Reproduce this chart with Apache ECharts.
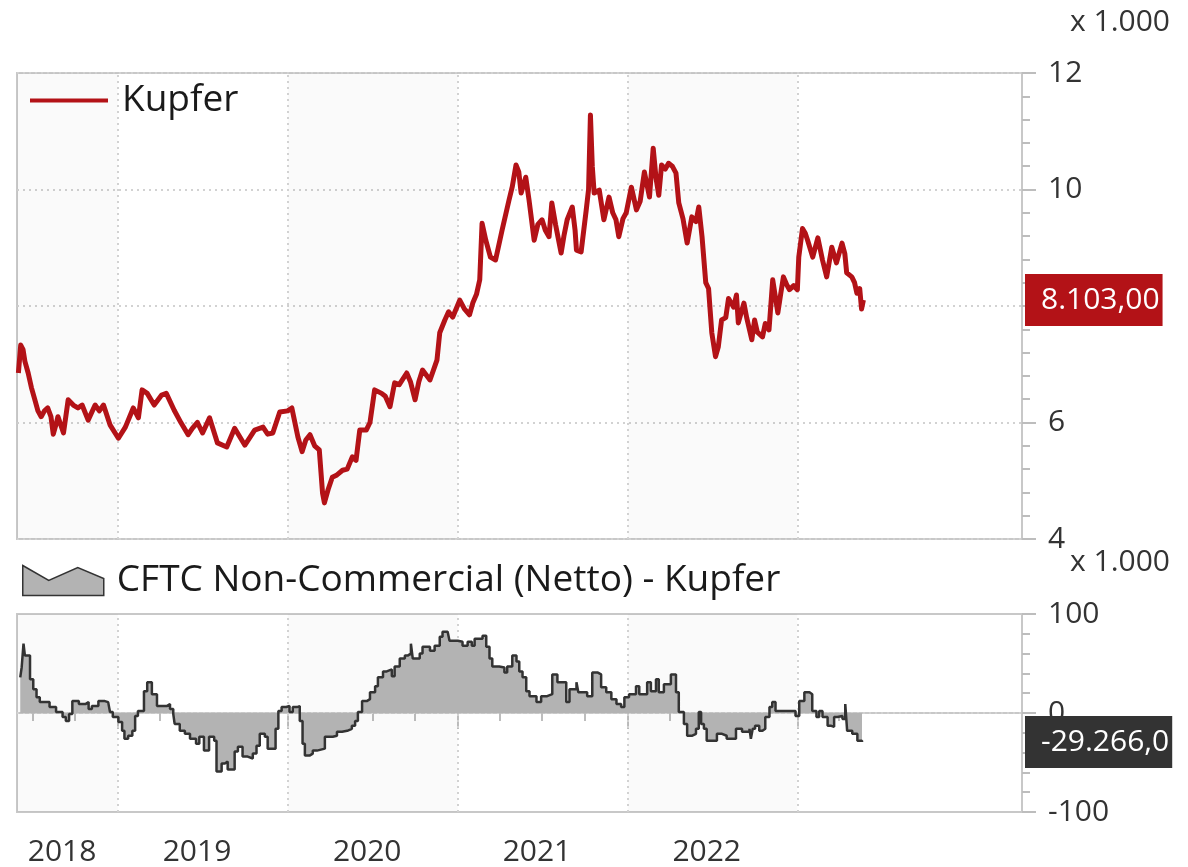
<!DOCTYPE html>
<html>
<head>
<meta charset="utf-8">
<title>Kupfer / CFTC</title>
<script src="https://cdn.jsdelivr.net/npm/echarts@6.0.0/dist/echarts.min.js"></script>
<style>
  html, body { margin: 0; padding: 0; background: #fff; }
  #chart { width: 1188px; height: 867px; }
</style>
</head>
<body>
<div id="chart"></div>
<script>
// Kupfer (USD/t)
const copperDates = [
  '2018-06-01','2018-06-06','2018-06-11','2018-06-15','2018-06-22','2018-06-29','2018-07-06','2018-07-13',
  '2018-07-20','2018-07-27','2018-08-03','2018-08-10','2018-08-15','2018-08-22','2018-08-25','2018-09-06',
  '2018-09-16','2018-09-27','2018-10-07','2018-10-16','2018-10-29','2018-11-13','2018-11-22','2018-12-01',
  '2018-12-15','2019-01-02','2019-01-17','2019-02-03','2019-02-14','2019-02-22','2019-03-05','2019-03-20',
  '2019-04-05','2019-04-15','2019-05-02','2019-05-17','2019-06-01','2019-06-10','2019-06-21','2019-07-02',
  '2019-07-17','2019-08-03','2019-08-23','2019-09-09','2019-10-01','2019-10-22','2019-11-09','2019-11-19',
  '2019-11-30','2019-12-15','2020-01-01','2020-01-10','2020-01-23','2020-02-01','2020-02-09','2020-02-18',
  '2020-02-28','2020-03-09','2020-03-16','2020-03-20','2020-03-28','2020-04-06','2020-04-16','2020-04-28',
  '2020-05-08','2020-05-19','2020-05-27','2020-06-04','2020-06-18','2020-06-26','2020-07-06','2020-07-21',
  '2020-07-29','2020-08-08','2020-08-18','2020-08-28','2020-09-13','2020-09-21','2020-10-01','2020-10-09',
  '2020-10-17','2020-11-02','2020-11-17','2020-11-23','2020-12-04','2020-12-12','2020-12-21','2021-01-05',
  '2021-01-15','2021-01-26','2021-02-02','2021-02-10','2021-02-17','2021-02-22','2021-03-02','2021-03-12',
  '2021-03-23','2021-04-06','2021-04-21','2021-04-28','2021-05-06','2021-05-12','2021-05-17','2021-05-27',
  '2021-06-03','2021-06-14','2021-06-22','2021-07-01','2021-07-08','2021-07-16','2021-07-22','2021-07-30',
  '2021-08-11','2021-08-17','2021-08-24','2021-09-04','2021-09-10','2021-09-13','2021-09-23','2021-10-04',
  '2021-10-09','2021-10-13','2021-10-17','2021-10-21','2021-11-01','2021-11-11','2021-11-22','2021-11-30',
  '2021-12-07','2021-12-13','2021-12-22','2021-12-29','2022-01-09','2022-01-20','2022-01-28','2022-02-06',
  '2022-02-17','2022-02-25','2022-03-03','2022-03-09','2022-03-15','2022-03-23','2022-03-30','2022-04-07',
  '2022-04-15','2022-04-21','2022-04-30','2022-05-09','2022-05-19','2022-05-28','2022-06-03','2022-06-10',
  '2022-06-18','2022-06-24','2022-07-01','2022-07-09','2022-07-15','2022-07-22','2022-07-31','2022-08-06',
  '2022-08-17','2022-08-23','2022-08-27','2022-09-08','2022-09-14','2022-09-25','2022-10-01','2022-10-07',
  '2022-10-18','2022-10-24','2022-11-01','2022-11-09','2022-11-20','2022-11-26','2022-12-02','2022-12-10',
  '2022-12-15','2022-12-24','2023-01-01','2023-01-04','2023-01-12','2023-01-18','2023-01-23','2023-02-03',
  '2023-02-14','2023-02-24','2023-03-05','2023-03-16','2023-03-26','2023-04-07','2023-04-13','2023-04-17',
  '2023-04-28','2023-05-04','2023-05-09','2023-05-15','2023-05-19','2023-05-23'
];
const copperValues = [
  6850,7330,7250,7050,6850,6600,6400,6200,
  6100,6200,6250,6100,5800,6000,6100,5820,
  6390,6300,6250,6300,6040,6300,6200,6300,
  5960,5730,5920,6250,6080,6560,6500,6300,
  6470,6500,6210,5990,5790,5900,6000,5820,
  6080,5650,5580,5900,5610,5870,5920,5800,
  5820,6180,6200,6250,5750,5500,5700,5790,
  5600,5530,4790,4620,4850,5060,5100,5180,
  5200,5410,5350,5870,5870,6000,6560,6500,
  6450,6270,6680,6650,6850,6700,6390,6700,
  6900,6730,7070,7540,7760,7900,7810,8100,
  7950,7850,8050,8200,8450,9420,9130,8840,
  8790,9300,9820,10050,10420,10300,9940,10210,
  9820,9130,9400,9480,9300,9190,9770,9400,
  8910,9200,9480,9700,9300,8960,8930,9650,
  10000,11280,10400,9940,9990,9480,9870,9600,
  9480,9190,9500,9600,10040,9650,9800,10300,
  9870,10710,10200,9900,10420,10350,10450,10400,
  10280,9770,9500,9080,9530,9450,9700,9190,
  8400,8300,7540,7130,7300,7760,7800,8130,
  7980,8190,7710,8050,7800,7420,7760,7550,
  7470,7700,7590,8450,7880,8200,8500,8350,
  8280,8350,8280,8840,9330,9250,9130,8840,
  9170,8790,8500,9010,8740,9080,8900,8570,
  8500,8400,8220,8300,7950,8103
];

// CFTC Non-Commercial Netto (Kontrakte)
const cftcDates = [
  '2018-06-05','2018-06-08','2018-06-12','2018-06-15','2018-06-26','2018-07-03','2018-07-10','2018-07-17',
  '2018-08-07','2018-08-21','2018-09-04','2018-09-11','2018-09-18','2018-09-25','2018-10-09','2018-10-23',
  '2018-10-30','2018-11-06','2018-11-20','2018-12-04','2018-12-11','2018-12-15','2018-12-21','2019-01-02',
  '2019-01-10','2019-01-15','2019-01-23','2019-02-01','2019-02-07','2019-02-13','2019-02-26','2019-03-05',
  '2019-03-15','2019-03-26','2019-04-16','2019-04-23','2019-04-30','2019-05-03','2019-05-14','2019-05-25',
  '2019-06-05','2019-06-18','2019-06-25','2019-07-05','2019-07-16','2019-07-27','2019-08-01','2019-08-12',
  '2019-08-19','2019-08-25','2019-09-09','2019-09-16','2019-09-26','2019-10-07','2019-10-18','2019-10-26',
  '2019-11-02','2019-11-13','2019-11-19','2019-12-06','2019-12-12','2019-12-19','2019-12-29','2020-01-05',
  '2020-01-12','2020-01-21','2020-01-27','2020-02-02','2020-02-07','2020-02-17','2020-02-24','2020-03-04',
  '2020-03-21','2020-04-07','2020-04-16','2020-04-27','2020-05-08','2020-05-18','2020-05-25','2020-05-31',
  '2020-06-09','2020-06-19','2020-06-26','2020-07-07','2020-07-13','2020-07-24','2020-08-01','2020-08-12',
  '2020-08-18','2020-08-29','2020-09-09','2020-09-15','2020-09-22','2020-09-26','2020-10-11','2020-10-17',
  '2020-11-02','2020-11-12','2020-11-23','2020-11-29','2020-12-10','2020-12-14','2021-01-01','2021-01-11',
  '2021-01-22','2021-01-31','2021-02-06','2021-02-23','2021-03-03','2021-03-10','2021-03-16','2021-03-31',
  '2021-04-11','2021-04-17','2021-04-28','2021-05-07','2021-05-13','2021-05-20','2021-05-28','2021-06-04',
  '2021-06-19','2021-06-29','2021-07-12','2021-07-23','2021-08-03','2021-08-22','2021-08-29','2021-09-13',
  '2021-09-17','2021-10-06','2021-10-17','2021-10-28','2021-11-05','2021-11-16','2021-11-27','2021-12-08',
  '2021-12-18','2021-12-25','2022-01-04','2022-01-19','2022-01-26','2022-02-12','2022-02-20','2022-03-03',
  '2022-03-09','2022-03-20','2022-04-04','2022-04-15','2022-04-21','2022-05-02','2022-05-09','2022-05-19',
  '2022-05-28','2022-06-03','2022-06-08','2022-06-14','2022-06-20','2022-07-12','2022-07-23','2022-08-02',
  '2022-08-22','2022-09-04','2022-09-20','2022-09-23','2022-09-27','2022-10-02','2022-10-11','2022-10-18',
  '2022-10-24','2022-11-02','2022-11-08','2022-11-15','2022-12-28','2023-01-05','2023-01-16','2023-01-27',
  '2023-02-02','2023-02-11','2023-02-17','2023-02-24','2023-03-07','2023-03-15','2023-03-21','2023-03-28',
  '2023-04-08','2023-04-14','2023-04-18','2023-04-29','2023-05-10','2023-05-20'
];
const cftcValues = [
  36000,46000,70000,58000,34000,24000,16000,11000,
  6000,1000,-4000,-8000,-1000,12000,9000,11000,
  4000,7000,12000,11000,9000,1000,-4000,-9000,
  -18000,-26000,-23000,-18000,-3000,2000,22000,31000,
  19000,7000,9000,4000,-1000,-11000,-18000,-21000,
  -26000,-31000,-24000,-38000,-24000,-28000,-59000,-51000,
  -49000,-57000,-39000,-34000,-44000,-46000,-41000,-33000,
  -21000,-24000,-36000,-16000,2000,6000,7000,1000,
  6000,7000,-8000,-31000,-43000,-41000,-38000,-36000,
  -24000,-23000,-19000,-18000,-16000,-13000,-8000,1000,
  12000,14000,21000,27000,36000,42000,44000,37000,
  47000,55000,58000,60000,70000,55000,60000,67000,
  63000,68000,77000,82000,83000,73000,72000,68000,
  72000,68000,75000,78000,67000,55000,47000,46000,
  41000,47000,58000,52000,42000,36000,22000,17000,
  11000,17000,19000,39000,31000,11000,24000,31000,
  21000,17000,41000,39000,26000,21000,14000,9000,
  6000,16000,19000,27000,19000,31000,22000,34000,
  21000,29000,39000,21000,1000,-11000,-23000,-21000,
  -16000,1000,-11000,-16000,-28000,-21000,-23000,-26000,
  -16000,-19000,-16000,-26000,-16000,-13000,-18000,-16000,
  -4000,6000,11000,2000,-3000,12000,21000,19000,
  2000,-4000,2000,-4000,-13000,-14000,-4000,-3000,
  -6000,9000,-18000,-21000,-28000,-29266
];

// Zeitachse
const axisStart = '2018-05-29';
const axisEnd = '2024-04-28';
const yearStarts = ['2019-01-01', '2020-01-01', '2021-01-01', '2022-01-01', '2023-01-01'];
const quarterTicks = [
  '2018-07-01','2018-10-01','2019-04-01','2019-07-01','2019-10-01','2020-04-01','2020-07-01','2020-10-01',
  '2021-04-01','2021-07-01','2021-10-01','2022-04-01','2022-07-01','2022-10-01','2023-04-01'
];
const yearLabelDates = ['2018-09-03', '2019-06-20', '2020-06-20', '2021-06-20', '2022-06-20'];
const shadedYears = [[axisStart, '2019-01-01'], ['2020-01-01', '2021-01-01'], ['2022-01-01', '2023-01-01']];

const FONT = 'Open Sans';
const BORDER = '#c8c8c8';
const TICK = '#bdbdbd';
const RED = '#b31217';

// Zeitstempel (UTC), damit die Datumsachse als Werteachse mit eigenen Ticks laufen kann
const ts = s => Date.parse(s + 'T00:00:00Z');

function deNum(v, digits) {
  const s = Math.abs(v).toFixed(digits);
  const parts = s.split('.');
  const int = parts[0].replace(/\B(?=(\d{3})+(?!\d))/g, '.');
  return (v < 0 ? '-' : '') + int + (parts[1] ? ',' + parts[1] : '');
}

const copperData = copperDates.map((d, i) => [ts(d), copperValues[i]]);
const cftcData = cftcDates.map((d, i) => [ts(d), cftcValues[i]]);
const lastCopper = copperValues[copperValues.length - 1];
const lastCftc = cftcValues[cftcValues.length - 1];

const bands = shadedYears.map(([a, b]) => [{ xAxis: ts(a) }, { xAxis: ts(b) }]);
const yearLines = yearStarts.map(d => ({ xAxis: ts(d) }));
const dotted = { color: '#d2d2d2', width: 2, type: [2, 4] };

const chart = echarts.init(document.getElementById('chart'));

chart.setOption({
  animation: false,
  textStyle: { fontFamily: FONT },
  grid: [
    { left: 17, right: 166, top: 73, height: 466, outerBoundsMode: 'none', show: true, borderColor: BORDER, borderWidth: 2 },
    { left: 17, right: 166, top: 614, height: 198, outerBoundsMode: 'none', show: true, borderColor: BORDER, borderWidth: 2 }
  ],
  legend: [
    {
      data: ['Kupfer'],
      left: 25,
      top: 77,
      icon: 'rect',
      itemWidth: 78,
      itemHeight: 4,
      itemStyle: { color: RED, borderWidth: 0 },
      textStyle: { fontSize: 37, color: '#1a1a1a', lineHeight: 36, padding: [0, 0, 0, 9] },
      selectedMode: false
    },
    {
      data: ['CFTC Non-Commercial (Netto) - Kupfer'],
      left: 17,
      top: 557,
      icon: 'path://M0,2 L26,17 L55,4 L81,15 L81,32 L0,32 Z',
      itemWidth: 81,
      itemHeight: 32,
      itemStyle: { color: '#b3b3b3', borderColor: '#333', borderWidth: 1.5 },
      textStyle: { fontSize: 37, color: '#1a1a1a', lineHeight: 36, padding: [0, 0, 0, 8] },
      selectedMode: false
    }
  ],
  xAxis: [
    {
      type: 'value', gridIndex: 0, min: ts(axisStart), max: ts(axisEnd),
      axisLine: { show: false }, axisTick: { show: false }, axisLabel: { show: false },
      splitLine: { show: false }
    },
    {
      type: 'value', gridIndex: 1, min: ts(axisStart), max: ts(axisEnd), position: 'bottom',
      axisLine: { show: true, lineStyle: { color: BORDER, width: 2 } },
      axisTick: { show: true, customValues: quarterTicks.map(ts), length: 8, lineStyle: { color: TICK, width: 2 } },
      axisLabel: {
        show: true, customValues: yearLabelDates.map(ts), margin: 25,
        fontSize: 30, color: '#333',
        formatter: v => String(new Date(v).getUTCFullYear())
      },
      splitLine: { show: false }
    },
    {
      type: 'value', gridIndex: 1, min: ts(axisStart), max: ts(axisEnd), position: 'bottom',
      axisLine: { show: false },
      axisTick: { show: true, customValues: yearStarts.map(ts), length: 16, lineStyle: { color: TICK, width: 2 } },
      axisLabel: { show: false },
      splitLine: { show: false }
    }
  ],
  yAxis: [
    {
      type: 'value', gridIndex: 0, position: 'right', min: 4000, max: 12000, interval: 2000,
      name: 'x 1.000', nameLocation: 'end', nameGap: 51,
      nameTextStyle: { fontSize: 30, color: '#333', align: 'left', verticalAlign: 'middle', padding: [0, 0, 0, 48] },
      axisLine: { show: true, lineStyle: { color: BORDER, width: 2 } },
      axisTick: { show: true, length: 14, lineStyle: { color: TICK, width: 2 } },
      minorTick: { show: true, splitNumber: 5, length: 8, lineStyle: { color: TICK, width: 2 } },
      axisLabel: { margin: 26, fontSize: 30, color: '#333', formatter: v => String(v / 1000) },
      splitLine: { show: true, lineStyle: dotted }
    },
    {
      type: 'value', gridIndex: 0, position: 'right', min: 4000, max: 12000,
      axisLine: { show: false }, axisTick: { show: false }, splitLine: { show: false },
      axisLabel: {
        customValues: [lastCopper], margin: 3, fontSize: 30, color: '#fff',
        backgroundColor: RED, padding: [11, 3, 11, 16],
        formatter: v => deNum(v, 2)
      }
    },
    {
      type: 'value', gridIndex: 1, position: 'right', min: -100000, max: 100000, interval: 100000,
      name: 'x 1.000', nameLocation: 'end', nameGap: 52,
      nameTextStyle: { fontSize: 30, color: '#333', align: 'left', verticalAlign: 'middle', padding: [0, 0, 0, 48] },
      axisLine: { show: true, lineStyle: { color: BORDER, width: 2 } },
      axisTick: { show: true, length: 14, lineStyle: { color: TICK, width: 2 } },
      minorTick: { show: true, splitNumber: 5, length: 8, lineStyle: { color: TICK, width: 2 } },
      axisLabel: { margin: 26, fontSize: 30, color: '#333', formatter: v => String(v / 1000) },
      splitLine: { show: false }
    },
    {
      type: 'value', gridIndex: 1, position: 'right', min: -100000, max: 100000,
      axisLine: { show: false }, axisTick: { show: false }, splitLine: { show: false },
      axisLabel: {
        customValues: [lastCftc], margin: 3, fontSize: 30, color: '#fff',
        backgroundColor: '#333', padding: [11, 3, 11, 16],
        formatter: v => deNum(v, 1)
      }
    }
  ],
  series: [
    {
      name: 'Kupfer',
      type: 'line',
      xAxisIndex: 0, yAxisIndex: 0,
      data: copperData,
      showSymbol: false,
      symbol: 'none',
      lineStyle: { color: RED, width: 5, join: 'round' },
      itemStyle: { color: RED },
      z: 5,
      markArea: { silent: true, itemStyle: { color: 'rgba(0,0,0,0.018)' }, data: bands },
      markLine: { silent: true, symbol: 'none', label: { show: false }, lineStyle: dotted, data: yearLines }
    },
    {
      name: 'CFTC Non-Commercial (Netto) - Kupfer',
      type: 'line',
      xAxisIndex: 1, yAxisIndex: 2,
      data: cftcData,
      step: 'end',
      showSymbol: false,
      symbol: 'none',
      lineStyle: { color: '#333', width: 2.5 },
      itemStyle: { color: '#b3b3b3' },
      areaStyle: { color: '#b3b3b3', opacity: 1 },
      z: 5,
      markArea: { silent: true, itemStyle: { color: 'rgba(0,0,0,0.018)' }, data: bands },
      markLine: {
        silent: true, symbol: 'none', label: { show: false }, lineStyle: dotted,
        data: yearLines.concat([{ yAxis: 0 }])
      }
    }
  ]
});
</script>
</body>
</html>
